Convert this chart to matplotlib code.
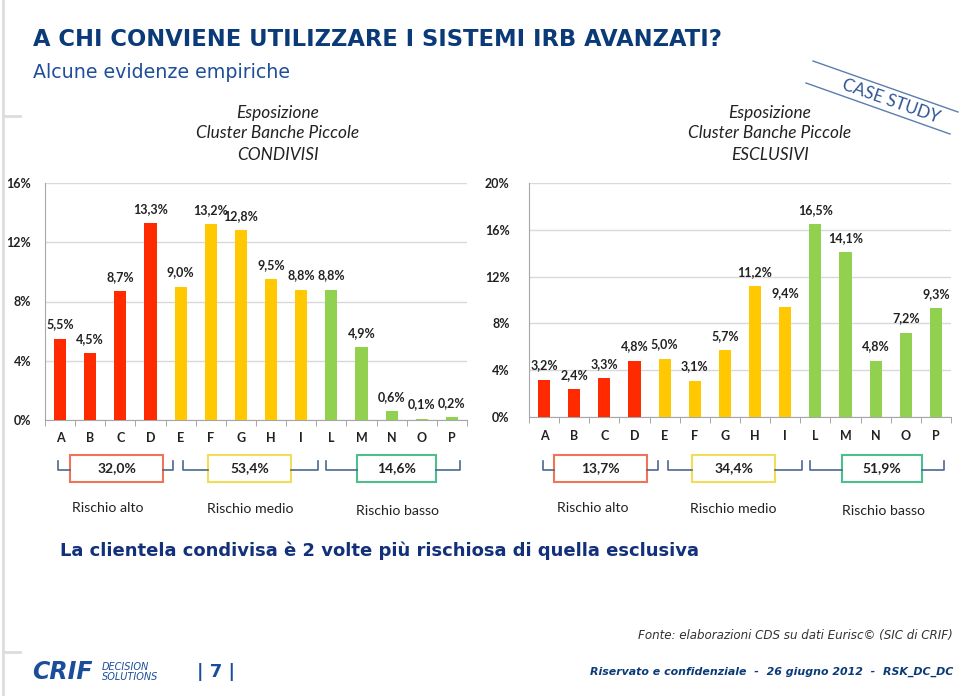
import numpy as np
import matplotlib.pyplot as plt
from matplotlib.patches import Rectangle
from matplotlib.lines import Line2D

# dati
categorie = list("ABCDEFGHILMNOP")
condivisi = [5.5, 4.5, 8.7, 13.3, 9.0, 13.2, 12.8, 9.5, 8.8, 8.8, 4.9, 0.6, 0.1, 0.2]
esclusivi = [3.2, 2.4, 3.3, 4.8, 5.0, 3.1, 5.7, 11.2, 9.4, 16.5, 14.1, 4.8, 7.2, 9.3]
gruppo = [0]*4 + [1]*5 + [2]*5          # 0 alto, 1 medio, 2 basso
quote_condivisi = [32.0, 53.4, 14.6]
quote_esclusivi = [13.7, 34.4, 51.9]
rischi = ["Rischio alto", "Rischio medio", "Rischio basso"]

colori = ["#FF2A00", "#FFC800", "#92D050"]
bordi = ["#F0735A", "#F2DC5A", "#4CBF8C"]
BLU = "#0B3A78"
FONT = "Lato"

W, H = 960, 696
fig = plt.figure(figsize=(W/100, H/100), dpi=100)

def fx(x):
    return x / W

def fy(y):
    return 1 - y / H

def pct(v):
    return f"{v:.1f}%".replace(".", ",")

def grafico(rect, valori, ymax, tickpad):
    l, t, r, b = rect
    ax = fig.add_axes([fx(l), fy(b), fx(r - l), (b - t) / H])
    x = np.arange(len(valori))
    ax.bar(x, valori, width=0.4, color=[colori[g] for g in gruppo], zorder=3)
    for xi, v in zip(x, valori):
        ax.annotate(pct(v), (xi, v), xytext=(0, 6), textcoords="offset points",
                    ha="center", va="bottom", fontsize=9, fontweight="bold",
                    family=FONT, color="#222222")
    ax.set_xlim(-0.5, len(valori) - 0.5)
    ax.set_ylim(0, ymax)
    ax.set_yticks(np.arange(0, ymax + 0.1, 4))
    ax.set_yticklabels([f"{int(v)}%" for v in np.arange(0, ymax + 0.1, 4)])
    ax.set_xticks(x)
    ax.set_xticklabels(categorie)
    ax.set_xticks(np.arange(-0.5, len(valori)), minor=True)
    ax.tick_params(axis="x", which="major", length=0, pad=9)
    ax.tick_params(axis="x", which="minor", length=4, color="#999999")
    ax.tick_params(axis="y", length=0, pad=tickpad)
    for lab in ax.get_xticklabels() + ax.get_yticklabels():
        lab.set_family(FONT)
        lab.set_fontsize(9)
        lab.set_fontweight("bold")
        lab.set_color("#222222")
    ax.grid(axis="y", color="#D9D9D9", lw=1, zorder=0)
    for s in ["top", "right"]:
        ax.spines[s].set_visible(False)
    ax.spines["left"].set_color("#A6A6A6")
    ax.spines["bottom"].set_color("#A6A6A6")
    return ax

grafico((45, 183, 467, 420), condivisi, 16, 10)
grafico((529, 183, 951, 417), esclusivi, 20, 14)

# titolo
fig.text(fx(33), fy(40), "A CHI CONVIENE UTILIZZARE I SISTEMI IRB AVANZATI?",
         fontsize=16.3, fontweight="bold", color=BLU, va="center", family="DejaVu Sans")
fig.text(fx(33), fy(72), "Alcune evidenze empiriche", fontsize=13.7, color="#1F4E9A",
         va="center", family="DejaVu Sans")

# intestazioni
for xc, ultimo in [(278, "CONDIVISI"), (770, "ESCLUSIVI")]:
    for yy, s in zip([113, 133, 155], ["Esposizione", "Cluster Banche Piccole", ultimo]):
        fig.text(fx(xc), fy(yy), s, ha="center", va="center", fontsize=12.4,
                 style="italic", family=FONT, color="#222222")

# case study
fig.add_artist(Line2D([fx(813), fx(958)], [fy(61), fy(112)], color="#5B7DB1", lw=1))
fig.add_artist(Line2D([fx(806), fx(950)], [fy(83), fy(134)], color="#5B7DB1", lw=1))
fig.text(fx(891), fy(101), "CASE STUDY", rotation=-19.4, ha="center", va="center",
         fontsize=12.3, color="#2F5597", family=FONT, rotation_mode="anchor")

# bordo sinistro
fig.add_artist(Line2D([fx(3), fx(3)], [fy(0), fy(696)], color="#DDDDDD", lw=2))
for yy in [116, 652]:
    fig.add_artist(Line2D([fx(3), fx(20)], [fy(yy), fy(yy)], color="#DDDDDD", lw=2))

# quote per classe di rischio
def parentesi(x0, x1, bx0, bx1, valore, i):
    col = "#4A6890"
    fig.add_artist(Line2D([fx(x0), fx(x0), fx(bx0)], [fy(461), fy(470), fy(470)], color=col, lw=1.2))
    fig.add_artist(Line2D([fx(bx1), fx(x1), fx(x1)], [fy(470), fy(470), fy(461)], color=col, lw=1.2))
    fig.add_artist(Rectangle((fx(bx0), fy(482)), fx(bx1 - bx0), 27 / H, facecolor="white",
                             edgecolor=bordi[i], lw=1.5, transform=fig.transFigure))
    fig.text(fx((bx0 + bx1) / 2), fy(468), pct(valore), ha="center", va="center",
             fontsize=10, fontweight="bold", family=FONT, color="#222222")

sx = [(58, 173, 70, 163), (183, 318, 208, 291), (326, 460, 357, 436)]
dx = [(543, 658, 554, 647), (668, 802, 692, 775), (810, 944, 842, 922)]
for i, (pos, v) in enumerate(zip(sx, quote_condivisi)):
    parentesi(*pos, v, i)
for i, (pos, v) in enumerate(zip(dx, quote_esclusivi)):
    parentesi(*pos, v, i)

for xc, yy, s in zip([108, 250, 398, 593, 733, 883], [508, 509, 511, 508, 509, 511], rischi * 2):
    fig.text(fx(xc), fy(yy), s, ha="center", va="center", fontsize=10.2, family=FONT, color="#222222")

# conclusione
fig.text(fx(60), fy(551), "La clientela condivisa è 2 volte più rischiosa di quella esclusiva",
         fontsize=13, fontweight="bold", color="#13307A", va="center", family="DejaVu Sans")

# piè di pagina
fig.text(fx(953), fy(636), "Fonte: elaborazioni CDS su dati Eurisc© (SIC di CRIF)", ha="right",
         va="center", fontsize=8.6, style="italic", color="#333333", family="DejaVu Sans")
fig.text(fx(953), fy(672), "Riservato e confidenziale  -  26 giugno 2012  -  RSK_DC_DC", ha="right",
         va="center", fontsize=7.9, style="italic", fontweight="bold", color=BLU, family="DejaVu Sans")
fig.text(fx(32), fy(672), "CRIF", fontsize=17, fontweight="bold", style="italic", color="#1A4D9A",
         va="center", family="DejaVu Sans")
fig.text(fx(102), fy(672), "DECISION\nSOLUTIONS", fontsize=7, style="italic", color="#1A4D9A",
         va="center", family="DejaVu Sans", linespacing=0.9)
fig.text(fx(216), fy(672), "| 7 |", fontsize=13, fontweight="bold", color="#1A4D9A",
         ha="center", va="center", family="DejaVu Sans")

fig.savefig("out.png", dpi=100)
